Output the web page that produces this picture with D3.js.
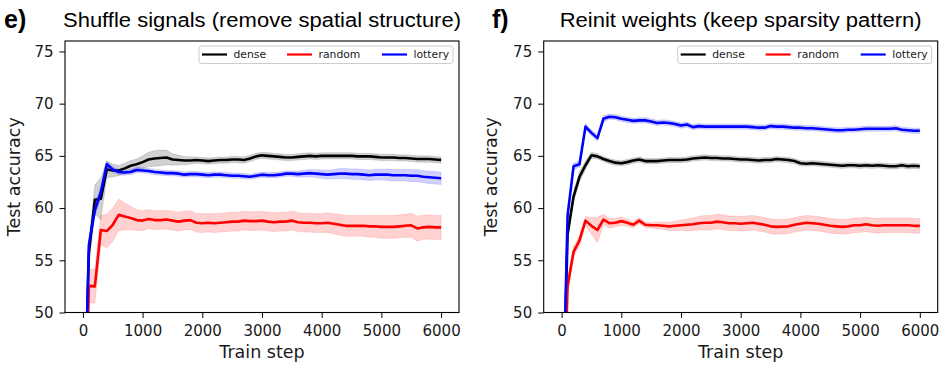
<!DOCTYPE html>
<html>
<head>
<meta charset="utf-8">
<script src="https://cdn.jsdelivr.net/npm/d3@7"></script>
<style>
  body { margin: 0; background: #fff; }
  svg { display: block; }
</style>
</head>
<body>
<svg id="chart" width="952" height="390"></svg>
<script>
// Train steps (one point every 100 steps)
const STEPS = d3.range(0, 6001, 100);

const SERIES_NAMES = ["dense", "random", "lottery"];
const SERIES_COLORS = ["#000000", "#ff0000", "#0000ff"];

const X_TICKS = [0, 1000, 2000, 3000, 4000, 5000, 6000];
const Y_TICKS = [50, 55, 60, 65, 70, 75];

// ---- panel e) shuffle signals ----
const denseE = [
  35, 55.7, 60.8, 60.9, 63.7, 63.6, 63.6, 63.8, 64.05, 64.2,
  64.4, 64.65, 64.75, 64.8, 64.85, 64.65, 64.6, 64.55, 64.55, 64.6,
  64.55, 64.5, 64.55, 64.6, 64.6, 64.65, 64.65, 64.6, 64.75, 64.95,
  65.05, 65.0, 64.95, 64.9, 64.85, 64.85, 64.9, 64.95, 65.0, 64.95,
  65.0, 65.0, 65.0, 65.0, 65.0, 65.0, 64.95, 64.95, 64.95, 64.9,
  64.85, 64.85, 64.85, 64.8, 64.8, 64.75, 64.7, 64.7, 64.7, 64.65,
  64.6
];
const randomE = [
  30, 52.55, 52.5, 57.9, 57.8, 58.4, 59.35, 59.2, 59.05, 58.85,
  58.8, 58.95, 58.85, 58.85, 58.9, 58.8, 58.7, 58.8, 58.85, 58.6,
  58.55, 58.6, 58.55, 58.6, 58.65, 58.7, 58.7, 58.8, 58.75, 58.75,
  58.8, 58.7, 58.65, 58.7, 58.7, 58.8, 58.65, 58.6, 58.6, 58.55,
  58.55, 58.6, 58.5, 58.4, 58.3, 58.3, 58.3, 58.3, 58.25, 58.25,
  58.2, 58.2, 58.2, 58.25, 58.3, 58.35, 58.05, 58.15, 58.2, 58.15,
  58.15
];
const lotteryE = [
  34, 56.5, 59.8, 61.5, 64.2, 63.7, 63.45, 63.4, 63.45, 63.65,
  63.6, 63.55, 63.45, 63.4, 63.35, 63.35, 63.3, 63.2, 63.25, 63.25,
  63.2, 63.15, 63.2, 63.2, 63.15, 63.1, 63.1, 63.05, 63.0, 63.1,
  63.2, 63.15, 63.15, 63.2, 63.3, 63.3, 63.25, 63.3, 63.35, 63.3,
  63.25, 63.2, 63.25, 63.3, 63.3, 63.25, 63.25, 63.2, 63.15, 63.2,
  63.2, 63.2, 63.15, 63.15, 63.15, 63.1, 63.1, 63.0, 62.95, 62.9,
  62.85
];
// half width of the shaded spread
const denseBandE = [
  1.5, 1.2, 1.4, 2.0, 0.8, 0.6, 0.5, 0.5, 0.5, 0.5,
  0.6, 0.7, 0.75, 0.75, 0.7, 0.55, 0.45, 0.4, 0.35, 0.3,
  0.3, 0.3, 0.3, 0.3, 0.3, 0.3, 0.3, 0.3, 0.3, 0.3,
  0.3, 0.3, 0.3, 0.3, 0.3, 0.3, 0.3, 0.3, 0.3, 0.3,
  0.3, 0.3, 0.3, 0.3, 0.3, 0.3, 0.3, 0.3, 0.3, 0.3,
  0.3, 0.3, 0.3, 0.3, 0.3, 0.3, 0.3, 0.3, 0.3, 0.3,
  0.3
];
const randomBandE = [
  1.6, 1.6, 1.6, 1.4, 1.6, 1.6, 1.5, 1.3, 1.1, 1.0,
  0.95, 0.9, 0.9, 0.9, 0.9, 0.9, 0.9, 0.9, 0.9, 0.9,
  0.9, 0.9, 0.9, 0.9, 0.9, 0.9, 0.9, 0.9, 0.9, 0.9,
  0.9, 0.9, 0.9, 0.9, 0.9, 0.9, 0.9, 0.9, 0.9, 0.9,
  0.9, 0.95, 0.95, 1.0, 1.0, 1.0, 1.0, 1.0, 1.05, 1.05,
  1.1, 1.1, 1.1, 1.1, 1.1, 1.15, 1.2, 1.15, 1.15, 1.15,
  1.15
];
const lotteryBandE = [
  0.6, 0.6, 0.6, 0.6, 0.3, 0.25, 0.25, 0.25, 0.25, 0.25,
  0.25, 0.25, 0.25, 0.25, 0.25, 0.25, 0.25, 0.25, 0.25, 0.25,
  0.25, 0.25, 0.25, 0.25, 0.25, 0.25, 0.25, 0.25, 0.25, 0.25,
  0.25, 0.25, 0.25, 0.25, 0.25, 0.25, 0.3, 0.32, 0.35, 0.38,
  0.4, 0.42, 0.45, 0.48, 0.5, 0.5, 0.5, 0.5, 0.5, 0.52,
  0.52, 0.54, 0.55, 0.55, 0.56, 0.57, 0.58, 0.58, 0.6, 0.6,
  0.6
];

// ---- panel f) reinit weights ----
const denseF = [
  35, 57.5, 61.1, 63.0, 64.1, 65.05, 64.95, 64.7, 64.5, 64.35,
  64.3, 64.4, 64.55, 64.65, 64.5, 64.5, 64.5, 64.55, 64.6, 64.6,
  64.6, 64.65, 64.75, 64.8, 64.85, 64.8, 64.8, 64.75, 64.75, 64.7,
  64.65, 64.65, 64.6, 64.55, 64.6, 64.6, 64.7, 64.65, 64.6, 64.5,
  64.3, 64.25, 64.3, 64.25, 64.2, 64.15, 64.1, 64.05, 64.1, 64.1,
  64.05, 64.1, 64.05, 64.1, 64.05, 64.0, 64.0, 64.1, 64.0, 64.05,
  64.0
];
const randomF = [
  33, 52.5, 55.8, 56.9, 58.8, 58.3, 57.9, 58.9, 58.55, 58.6,
  58.75, 58.6, 58.4, 58.8, 58.4, 58.35, 58.35, 58.3, 58.25, 58.3,
  58.35, 58.4, 58.45, 58.55, 58.6, 58.6, 58.7, 58.65, 58.55, 58.55,
  58.5, 58.55, 58.6, 58.5, 58.4, 58.25, 58.2, 58.22, 58.25, 58.4,
  58.5, 58.6, 58.55, 58.5, 58.4, 58.3, 58.25, 58.2, 58.25, 58.35,
  58.35, 58.45, 58.35, 58.3, 58.35, 58.35, 58.35, 58.35, 58.35, 58.3,
  58.3
];
const lotteryF = [
  35, 59.3, 64.0, 64.2, 67.8, 67.2, 66.7, 68.55, 68.75, 68.7,
  68.55, 68.45, 68.35, 68.4, 68.4, 68.3, 68.15, 68.2, 68.15, 68.05,
  67.9, 68.0, 67.75, 67.85, 67.8, 67.8, 67.8, 67.8, 67.8, 67.8,
  67.8, 67.8, 67.75, 67.7, 67.7, 67.85, 67.8, 67.8, 67.75, 67.7,
  67.7, 67.65, 67.65, 67.6, 67.55, 67.5, 67.45, 67.45, 67.5, 67.5,
  67.55, 67.6, 67.6, 67.6, 67.6, 67.6, 67.65, 67.5, 67.45, 67.4,
  67.4
];
const denseBandF = [
  0.5, 0.5, 0.5, 0.5, 0.4, 0.3, 0.25, 0.25, 0.25, 0.25,
  0.25, 0.25, 0.25, 0.25, 0.25, 0.25, 0.25, 0.25, 0.25, 0.25,
  0.25, 0.25, 0.25, 0.25, 0.25, 0.25, 0.25, 0.25, 0.25, 0.25,
  0.25, 0.25, 0.25, 0.25, 0.25, 0.25, 0.25, 0.25, 0.25, 0.25,
  0.25, 0.25, 0.25, 0.25, 0.25, 0.25, 0.25, 0.25, 0.25, 0.25,
  0.25, 0.25, 0.25, 0.25, 0.25, 0.25, 0.25, 0.25, 0.25, 0.25,
  0.25
];
const randomBandF = [
  0.8, 0.8, 0.5, 0.5, 0.4, 0.8, 1.2, 0.5, 0.45, 0.4,
  0.4, 0.35, 0.3, 0.3, 0.25, 0.25, 0.3, 0.35, 0.4, 0.45,
  0.5, 0.55, 0.6, 0.65, 0.7, 0.7, 0.7, 0.7, 0.7, 0.7,
  0.7, 0.7, 0.7, 0.7, 0.7, 0.7, 0.7, 0.7, 0.7, 0.7,
  0.7, 0.7, 0.7, 0.7, 0.7, 0.7, 0.7, 0.7, 0.7, 0.7,
  0.7, 0.7, 0.7, 0.7, 0.7, 0.7, 0.7, 0.7, 0.7, 0.7,
  0.7
];
const lotteryBandF = [
  0.4, 0.4, 0.3, 0.3, 0.3, 0.3, 0.3, 0.3, 0.25, 0.25,
  0.25, 0.25, 0.25, 0.25, 0.25, 0.25, 0.25, 0.25, 0.25, 0.25,
  0.25, 0.25, 0.25, 0.25, 0.25, 0.25, 0.25, 0.25, 0.25, 0.25,
  0.25, 0.25, 0.25, 0.25, 0.25, 0.25, 0.25, 0.25, 0.25, 0.25,
  0.25, 0.25, 0.25, 0.25, 0.25, 0.25, 0.25, 0.25, 0.25, 0.25,
  0.25, 0.25, 0.25, 0.25, 0.25, 0.25, 0.25, 0.25, 0.25, 0.25,
  0.25
];

// Layout
const PLOT_TOP = 41;
const PLOT_BOTTOM = 312.5;
const X_DOMAIN = [-300, 6300];
const Y_DOMAIN = [50, 76];
const TICK_FONT = "'DejaVu Sans', sans-serif";
const TITLE_FONT = "'Liberation Sans', Arial, sans-serif";
const LINE_WIDTH = 2.6;

const panels = [
  {
    id: "e",
    letter: "e)",
    title: "Shuffle signals (remove spatial structure)",
    titleWidth: 398,
    left: 65,
    right: 459,
    letterX: 4,
    ylabelX: 19.5,
    values: [denseE, randomE, lotteryE],
    bands: [denseBandE, randomBandE, lotteryBandE],
  },
  {
    id: "f",
    letter: "f)",
    title: "Reinit weights (keep sparsity pattern)",
    titleWidth: 362,
    left: 543.7,
    right: 937.7,
    letterX: 492,
    ylabelX: 497,
    values: [denseF, randomF, lotteryF],
    bands: [denseBandF, randomBandF, lotteryBandF],
  },
];

const svg = d3.select("#chart");

function drawPanel(p) {
  const x = d3.scaleLinear().domain(X_DOMAIN).range([p.left, p.right]);
  const y = d3.scaleLinear().domain(Y_DOMAIN).range([PLOT_BOTTOM, PLOT_TOP]);

  const g = svg.append("g");

  g.append("clipPath")
    .attr("id", `clip-${p.id}`)
    .append("rect")
    .attr("x", p.left)
    .attr("y", PLOT_TOP)
    .attr("width", p.right - p.left)
    .attr("height", PLOT_BOTTOM - PLOT_TOP);

  const plot = g.append("g").attr("clip-path", `url(#clip-${p.id})`);

  const area = d3
    .area()
    .x((d) => x(d.step))
    .y0((d) => y(d.v - d.b))
    .y1((d) => y(d.v + d.b));

  const line = d3
    .line()
    .x((d) => x(d.step))
    .y((d) => y(d.v));

  SERIES_NAMES.forEach((name, si) => {
    const pts = STEPS.map((step, i) => ({
      step,
      v: p.values[si][i],
      b: p.bands[si][i],
    }));
    plot
      .append("path")
      .datum(pts)
      .attr("d", area)
      .attr("fill", SERIES_COLORS[si])
      .attr("fill-opacity", 0.18)
      .attr("stroke", SERIES_COLORS[si])
      .attr("stroke-opacity", 0.12)
      .attr("stroke-width", 1);
    plot
      .append("path")
      .datum(pts)
      .attr("d", line)
      .attr("fill", "none")
      .attr("stroke", SERIES_COLORS[si])
      .attr("stroke-width", LINE_WIDTH)
      .attr("stroke-linejoin", "round");
  });

  // frame
  g.append("rect")
    .attr("x", p.left)
    .attr("y", PLOT_TOP)
    .attr("width", p.right - p.left)
    .attr("height", PLOT_BOTTOM - PLOT_TOP)
    .attr("fill", "none")
    .attr("stroke", "#000")
    .attr("stroke-width", 1.1);

  // axes
  const xAxis = g
    .append("g")
    .attr("transform", `translate(0,${PLOT_BOTTOM})`)
    .call(
      d3.axisBottom(x)
        .tickValues(X_TICKS)
        .tickFormat(d3.format("d"))
        .tickSize(5.5)
        .tickPadding(7)
        .tickSizeOuter(0)
    );
  const yAxis = g
    .append("g")
    .attr("transform", `translate(${p.left},0)`)
    .call(
      d3.axisLeft(y)
        .tickValues(Y_TICKS)
        .tickFormat(d3.format("d"))
        .tickSize(5.5)
        .tickPadding(6)
        .tickSizeOuter(0)
    );

  [xAxis, yAxis].forEach((ax) => {
    ax.select(".domain").remove();
    ax.selectAll("line").attr("stroke", "#000").attr("stroke-width", 1);
    ax.selectAll("text")
      .attr("fill", "#1a1a1a")
      .style("font-family", TICK_FONT)
      .style("font-size", "15px");
  });

  // axis labels
  g.append("text")
    .attr("x", (p.left + p.right) / 2)
    .attr("y", 358)
    .attr("text-anchor", "middle")
    .style("font-family", TICK_FONT)
    .style("font-size", "17.5px")
    .attr("fill", "#1a1a1a")
    .text("Train step");

  g.append("text")
    .attr("transform", `translate(${p.ylabelX},${(PLOT_TOP + PLOT_BOTTOM) / 2}) rotate(-90)`)
    .attr("text-anchor", "middle")
    .style("font-family", TICK_FONT)
    .style("font-size", "17.5px")
    .attr("fill", "#1a1a1a")
    .text("Test accuracy");

  // title and panel letter
  g.append("text")
    .attr("x", (p.left + p.right) / 2 - p.titleWidth / 2)
    .attr("y", 26.5)
    .attr("textLength", p.titleWidth)
    .attr("lengthAdjust", "spacingAndGlyphs")
    .style("font-family", TITLE_FONT)
    .style("font-size", "19.5px")
    .attr("fill", "#000")
    .text(p.title);

  g.append("text")
    .attr("x", p.letterX)
    .attr("y", 28)
    .style("font-family", TITLE_FONT)
    .style("font-size", "25px")
    .style("font-weight", "bold")
    .attr("fill", "#000")
    .text(p.letter);

  // legend (upper right, three columns)
  const legW = 254;
  const legX = p.right - 6 - legW;
  const legY = 46;
  const leg = g.append("g");
  leg.append("rect")
    .attr("x", legX)
    .attr("y", legY)
    .attr("width", legW)
    .attr("height", 17.5)
    .attr("rx", 2.5)
    .attr("fill", "#fff")
    .attr("fill-opacity", 0.8)
    .attr("stroke", "#cccccc")
    .attr("stroke-width", 1);

  const colOffsets = [3, 88, 183];
  SERIES_NAMES.forEach((name, si) => {
    const cx = legX + colOffsets[si];
    leg.append("line")
      .attr("x1", cx)
      .attr("x2", cx + 25)
      .attr("y1", legY + 8.5)
      .attr("y2", legY + 8.5)
      .attr("stroke", SERIES_COLORS[si])
      .attr("stroke-width", 2.2);
    leg.append("text")
      .attr("x", cx + 31.5)
      .attr("y", legY + 12.3)
      .style("font-family", TICK_FONT)
      .style("font-size", "10.8px")
      .attr("fill", "#1a1a1a")
      .text(name);
  });
}

panels.forEach(drawPanel);
</script>
</body>
</html>
